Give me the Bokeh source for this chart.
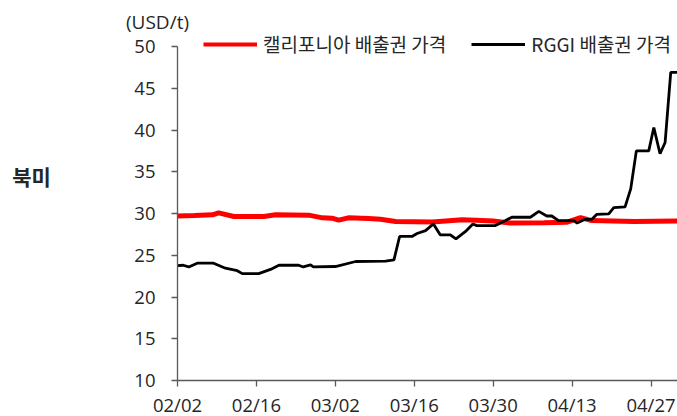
from bokeh.plotting import figure
from bokeh.models import Legend, LegendItem, Label, FixedTicker, Range1d, LinearAxis
from bokeh.embed import file_html
from bokeh.resources import INLINE

# x = days since 02/02
x_tick_days = [0, 14, 28, 42, 56, 70, 84]
x_tick_labels = ["02/02", "02/16", "03/02", "03/16", "03/30", "04/13", "04/27"]
y_ticks = [10, 15, 20, 25, 30, 35, 40, 45, 50]
x_last = 88.7
y_min, y_max = 10, 50

series_names = ["캘리포니아 배출권 가격", "RGGI 배출권 가격"]

ca_days = [0, 3, 6.2, 7.3, 10, 15.3, 17.4, 23.3, 25.7, 27.4, 28.6, 30.3, 33.9, 36,
           38.7, 45.2, 50.5, 53, 56, 59, 65, 69, 71.5, 73.5, 81, 88.7]
ca_values = [29.7, 29.75, 29.84, 30.08, 29.64, 29.64, 29.84, 29.8, 29.48, 29.44, 29.2,
             29.48, 29.4, 29.3, 29.04, 28.98, 29.25, 29.2, 29.1, 28.85, 28.9, 28.95,
             29.5, 29.15, 29.05, 29.1]

rggi_days = [0, 1, 2, 3.5, 6.4, 8.5, 10.6, 11.5, 14.4, 16.5, 18, 21.5, 22.3, 23.6, 24.1,
             28, 31.6, 36.9, 38.4, 39.4, 41.6, 42.5, 44, 45.4, 46.6, 48.4, 49.4, 51.1,
             52.4, 53.1, 56.4, 58.2, 59.3, 62.6, 64.1, 65.5, 66.4, 67.6, 70.3, 70.9,
             72.3, 73.5, 74.4, 76.5, 77.4, 79.4, 80.4, 81.4, 83.6, 84.5, 85.6, 86.5,
             87.5, 88.7]
rggi_values = [23.75, 23.8, 23.6, 24.05, 24.05, 23.45, 23.15, 22.8, 22.8, 23.3, 23.8,
               23.8, 23.6, 23.85, 23.6, 23.65, 24.25, 24.3, 24.45, 27.25, 27.25, 27.6,
               27.95, 28.75, 27.45, 27.45, 26.95, 27.85, 28.75, 28.55, 28.55, 29.15,
               29.55, 29.55, 30.25, 29.7, 29.7, 29.15, 29.15, 28.85, 29.3, 29.3, 29.9,
               29.95, 30.7, 30.8, 32.95, 37.5, 37.5, 40.3, 37.15, 38.5, 46.9, 46.9]

# layout (canvas pixels)
W, H = 677, 416
AX_LEFT, AX_RIGHT = 177, 677     # pixel of x=0 and x=x_last
AX_TOP, AX_BOTTOM = 46, 380      # pixel of y=50 and y=10
ppx = (AX_RIGHT - AX_LEFT) / x_last
ppy = (AX_BOTTOM - AX_TOP) / (y_max - y_min)

p = figure(width=W, height=H, output_backend="svg", toolbar_location=None,
           x_axis_type=None, y_axis_type=None,
           x_range=Range1d(-AX_LEFT / ppx, x_last + (W - AX_RIGHT) / ppx),
           y_range=Range1d(y_min - (H - AX_BOTTOM) / ppy, y_max + AX_TOP / ppy),
           min_border=0)
p.outline_line_color = None
p.xgrid.visible = False
p.ygrid.visible = False
p.background_fill_color = "white"
p.border_fill_color = "white"

p.line(ca_days, ca_values, line_color="#ff0000", line_width=5)
p.line(rggi_days, rggi_values, line_color="black", line_width=2.8)
# legend swatches: single-point lines (draw nothing in the plot), legend-sized strokes
lg_ca = p.line(ca_days[:1], ca_values[:1], line_color="#ff0000", line_width=4)
lg_rg = p.line(rggi_days[:1], rggi_values[:1], line_color="black", line_width=2.8)

ax_col = "#595959"
lab_col = "#262626"
xaxis = LinearAxis(fixed_location=y_min, bounds=(0, x_last),
                   ticker=FixedTicker(ticks=x_tick_days),
                   major_label_overrides={d: l for d, l in zip(x_tick_days, x_tick_labels)},
                   major_label_standoff=5)
yaxis = LinearAxis(fixed_location=0, bounds=(y_min, y_max),
                   ticker=FixedTicker(ticks=y_ticks), major_label_standoff=16)
for ax in (xaxis, yaxis):
    ax.axis_line_color = ax_col
    ax.axis_line_width = 1.3
    ax.major_tick_line_color = ax_col
    ax.major_tick_line_width = 1.3
    ax.major_tick_in = 0
    ax.major_tick_out = 6
    ax.minor_tick_line_color = None
    ax.major_label_text_font = "Open Sans"
    ax.major_label_text_font_size = "18.5px"
    ax.major_label_text_color = lab_col
p.add_layout(xaxis, "below")
p.add_layout(yaxis, "left")

legend = Legend(items=[LegendItem(label=series_names[0], renderers=[lg_ca]),
                       LegendItem(label=series_names[1], renderers=[lg_rg])],
                orientation="horizontal", location=(203, H - AX_TOP - 11),
                glyph_width=54, glyph_height=22, label_height=22,
                label_standoff=6, spacing=25, padding=0, margin=0,
                border_line_color=None, background_fill_alpha=0,
                label_text_font="Noto Sans CJK KR", label_text_font_size="19px",
                label_text_color=lab_col)
p.add_layout(legend, "center")

p.add_layout(Label(x=157, y=H - 21, x_units="screen", y_units="screen",
                   text="(USD/t)", text_align="center", text_baseline="middle",
                   text_font="Open Sans", text_font_size="19px", text_color=lab_col))
p.add_layout(Label(x=31, y=H - 175, x_units="screen", y_units="screen",
                   text="북미", text_align="center", text_baseline="middle",
                   text_font="Noto Sans CJK KR", text_font_size="21px",
                   text_font_style="bold", text_color=lab_col))

open("out.html", "w").write(file_html(p, INLINE))
